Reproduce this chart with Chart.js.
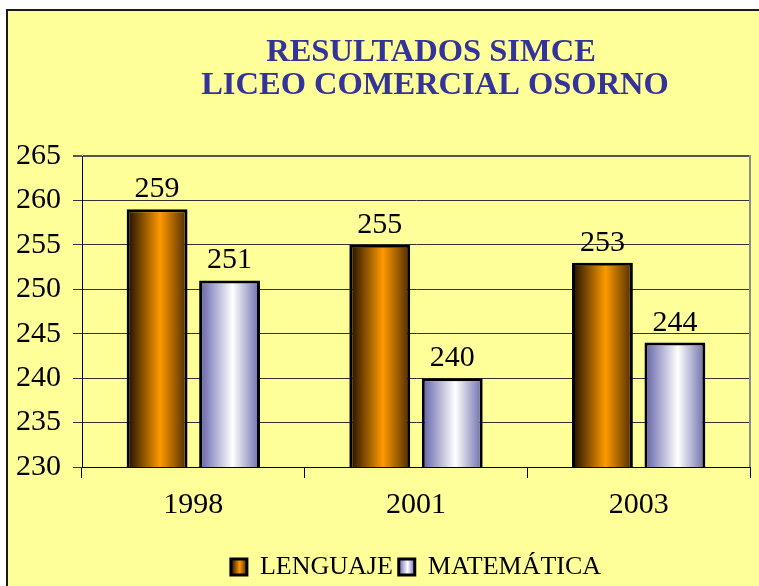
<!DOCTYPE html>
<html>
<head>
<meta charset="utf-8">
<style>
  html, body { margin: 0; padding: 0; background: #ffffff; }
  #wrap { position: absolute; left: 0; top: 0; width: 759px; height: 586px; }
</style>
<script src="https://cdn.jsdelivr.net/npm/chart.js@4/dist/chart.umd.min.js"></script>
</head>
<body>
<div id="wrap"><canvas id="c" width="759" height="586"></canvas></div>
<script>
const titleLines = ['RESULTADOS SIMCE', 'LICEO COMERCIAL OSORNO'];
const categories = ['1998', '2001', '2003'];
const seriesNames = ['LENGUAJE', 'MATEMÁTICA'];
const lenguaje = [259, 255, 253];
const matematica = [251, 240, 244];
const yTicks = [230, 235, 240, 245, 250, 255, 260, 265];

const FONT = '"Liberation Serif", "Times New Roman", serif';

function makeGrad(ctx, x0, x1, kind) {
  const g = ctx.createLinearGradient(x0, 0, x1, 0);
  if (kind === 0) {
    g.addColorStop(0, '#1a0c00');
    g.addColorStop(0.55, '#ff9900');
    g.addColorStop(1, '#4a2a00');
  } else {
    g.addColorStop(0, '#5f5fa8');
    g.addColorStop(0.55, '#ffffff');
    g.addColorStop(1, '#6a6aac');
  }
  return g;
}

const bgPlugin = {
  id: 'bg',
  beforeDraw(chart) {
    const ctx = chart.ctx;
    ctx.save();
    ctx.fillStyle = '#ffff99';
    ctx.fillRect(7, 10, chart.width - 7, chart.height - 10);
    ctx.strokeStyle = '#1a1a1a';
    ctx.lineWidth = 2;
    ctx.beginPath();
    ctx.moveTo(7, chart.height);
    ctx.lineTo(7, 10);
    ctx.lineTo(chart.width, 10);
    ctx.stroke();
    // title
    ctx.fillStyle = '#333399';
    ctx.font = 'bold 32.5px ' + FONT;
    ctx.textAlign = 'center';
    ctx.textBaseline = 'alphabetic';
    ctx.fillText(titleLines[0], 431, 61);
    ctx.fillText(titleLines[1], 435, 94);
    ctx.restore();
    // legend gradients
    const lg = chart.legend;
    if (lg && lg.legendItems && lg.legendHitBoxes) {
      lg.legendItems.forEach((it, i) => {
        const hb = lg.legendHitBoxes[i];
        if (hb) it.fillStyle = makeGrad(ctx, hb.left, hb.left + 16, i);
      });
    }
  },
  beforeDatasetsDraw(chart) {
    const ctx = chart.ctx;
    chart.data.datasets.forEach((ds, di) => {
      const meta = chart.getDatasetMeta(di);
      meta.data.forEach((el) => {
        const x0 = el.x - el.width / 2, x1 = el.x + el.width / 2;
        el.options = Object.assign({}, el.options, { backgroundColor: makeGrad(ctx, x0, x1, di) });
      });
    });
  },
  afterDatasetsDraw(chart) {
    const ctx = chart.ctx;
    ctx.save();
    ctx.fillStyle = '#000';
    ctx.font = '30px ' + FONT;
    ctx.textAlign = 'center';
    ctx.textBaseline = 'alphabetic';
    chart.data.datasets.forEach((ds, di) => {
      const meta = chart.getDatasetMeta(di);
      meta.data.forEach((el, i) => {
        ctx.fillText(String(ds.data[i]), el.x, el.y - 12);
      });
    });
    // right border of plot area
    const a = chart.chartArea;
    ctx.strokeStyle = '#8a8a8a';
    ctx.lineWidth = 2;
    ctx.beginPath();
    ctx.moveTo(a.right, a.top - 1);
    ctx.lineTo(a.right, a.bottom);
    ctx.stroke();
    ctx.restore();
  }
};

new Chart(document.getElementById('c'), {
  type: 'bar',
  data: {
    labels: categories,
    datasets: [
      { label: seriesNames[0], data: lenguaje, backgroundColor: '#ff9900', borderColor: '#000', borderWidth: 3, borderSkipped: false },
      { label: seriesNames[1], data: matematica, backgroundColor: '#ccccee', borderColor: '#000', borderWidth: 3, borderSkipped: false }
    ]
  },
  options: {
    responsive: false,
    animation: false,
    events: [],
    devicePixelRatio: 1,
    layout: { padding: { left: 0, right: 9, top: 156, bottom: -4 } },
    datasets: { bar: { categoryPercentage: 0.651, barPercentage: 0.84 } },
    plugins: {
      title: { display: false },
      tooltip: { enabled: false },
      legend: {
        display: true,
        position: 'bottom',
        fullSize: false,
        labels: {
          color: '#000',
          font: { family: FONT, size: 26 },
          boxWidth: 16,
          boxHeight: 16,
          padding: 6,
          strokeStyle: '#000'
        }
      }
    },
    scales: {
      x: {
        offset: true,
        grid: { offset: true, drawOnChartArea: false, drawTicks: true, tickLength: 11, color: '#000', lineWidth: 1 },
        border: { display: true, color: '#000', width: 1 },
        ticks: { color: '#000', font: { family: FONT, size: 30 }, padding: 9 },
        afterFit(s) { s.height = 81; }
      },
      y: {
        min: yTicks[0],
        max: yTicks[yTicks.length - 1],
        afterBuildTicks(s) { s.ticks = yTicks.map(v => ({ value: v })); },
        grid: {
          color: (c) => (c.tick && c.tick.value === 265) ? '#555555' : '#333333',
          lineWidth: (c) => (c.tick && c.tick.value === 265) ? 2 : 1,
          tickLength: 9,
          drawTicks: true
        },
        border: { display: true, color: '#000', width: 1 },
        ticks: { color: '#000', font: { family: FONT, size: 30 }, padding: 12 },
        afterFit(s) { s.width = 82; }
      }
    }
  },
  plugins: [bgPlugin]
});
</script>
</body>
</html>
